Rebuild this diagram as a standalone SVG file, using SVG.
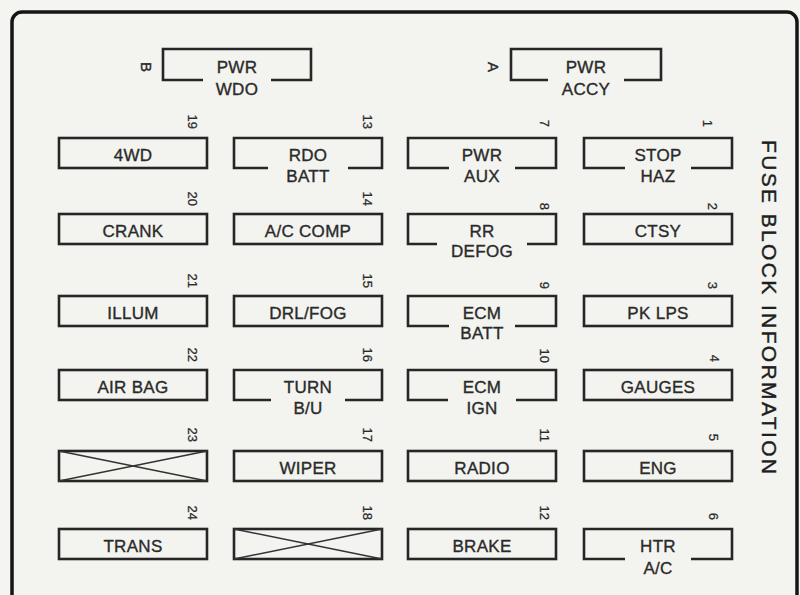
<svg xmlns="http://www.w3.org/2000/svg" width="800" height="595" viewBox="0 0 800 595">
<style>
.bg{fill:#f4f4f1}
.frame{fill:#f3f3ef;stroke:#151515;stroke-width:3.5}
.box{fill:none;stroke:#262626;stroke-width:2.6;stroke-linejoin:miter}
.x{stroke:#333;stroke-width:1.4}
.lbl{font-family:"Liberation Sans",Arial,sans-serif;font-size:17px;letter-spacing:0.3px;fill:#2a2a2a;stroke:#2a2a2a;stroke-width:0.35;text-anchor:middle}
.num{font-family:"Liberation Sans",Arial,sans-serif;font-size:13px;fill:#2a2a2a;stroke:#2a2a2a;stroke-width:0.25;text-anchor:end}
.let{font-family:"Liberation Sans",Arial,sans-serif;font-size:15px;fill:#2a2a2a;stroke:#2a2a2a;stroke-width:0.4;text-anchor:middle}
.title{font-family:"Liberation Sans",Arial,sans-serif;font-size:21px;fill:#1e1e1e;stroke:#1e1e1e;stroke-width:0.4}
</style>
<rect class="bg" x="0" y="0" width="800" height="595"/>
<rect class="frame" x="12" y="12" width="785" height="600" rx="10"/>
<text class="title" transform="rotate(90 762 140)" x="762" y="140" textLength="334" lengthAdjust="spacing">FUSE BLOCK INFORMATION</text>

<g id="fuse-B">
<path class="box" d="M203 80H163V49H311V80H271"/>
<text class="lbl" x="237" y="73">PWR</text>
<text class="lbl" x="237" y="95">WDO</text>
<text class="let" transform="rotate(90 140.5 67)" x="140.5" y="67">B</text>
</g>
<g id="fuse-A">
<path class="box" d="M548 80H511V49H661V80H624"/>
<text class="lbl" x="586" y="73">PWR</text>
<text class="lbl" x="586" y="95">ACCY</text>
<text class="let" transform="rotate(90 488 67)" x="488" y="67">A</text>
</g>

<!-- column 1 -->
<g id="fuse-19">
<rect class="box" x="59" y="138" width="148" height="30"/>
<text class="lbl" x="133" y="160.5">4WD</text>
<text class="num" transform="rotate(90 188.3 129)" x="188.3" y="129">19</text>
</g>
<g id="fuse-20">
<rect class="box" x="59" y="214" width="148" height="30"/>
<text class="lbl" x="133" y="236.5">CRANK</text>
<text class="num" transform="rotate(90 188.3 206)" x="188.3" y="206">20</text>
</g>
<g id="fuse-21">
<rect class="box" x="59" y="296" width="148" height="30"/>
<text class="lbl" x="133" y="318.5">ILLUM</text>
<text class="num" transform="rotate(90 188.3 288)" x="188.3" y="288">21</text>
</g>
<g id="fuse-22">
<rect class="box" x="59" y="370" width="148" height="30"/>
<text class="lbl" x="133" y="392.5">AIR BAG</text>
<text class="num" transform="rotate(90 188.3 362)" x="188.3" y="362">22</text>
</g>
<g id="fuse-23">
<rect class="box" x="59" y="451" width="148" height="30"/>
<line class="x" x1="59" y1="451" x2="207" y2="481"/>
<line class="x" x1="59" y1="481" x2="207" y2="451"/>
<text class="num" transform="rotate(90 188.3 442)" x="188.3" y="442">23</text>
</g>
<g id="fuse-24">
<rect class="box" x="59" y="529" width="148" height="30"/>
<text class="lbl" x="133" y="551.5">TRANS</text>
<text class="num" transform="rotate(90 188.3 520)" x="188.3" y="520">24</text>
</g>

<!-- column 2 -->
<g id="fuse-13">
<path class="box" d="M268 168H234V138H382V168H348"/>
<text class="lbl" x="308" y="160.5">RDO</text>
<text class="lbl" x="308" y="182">BATT</text>
<text class="num" transform="rotate(90 363.3 129)" x="363.3" y="129">13</text>
</g>
<g id="fuse-14">
<rect class="box" x="234" y="214" width="148" height="30"/>
<text class="lbl" x="308" y="236.5">A/C COMP</text>
<text class="num" transform="rotate(90 363.3 206)" x="363.3" y="206">14</text>
</g>
<g id="fuse-15">
<rect class="box" x="234" y="296" width="148" height="30"/>
<text class="lbl" x="308" y="318.5">DRL/FOG</text>
<text class="num" transform="rotate(90 363.3 288)" x="363.3" y="288">15</text>
</g>
<g id="fuse-16">
<path class="box" d="M271 400H234V370H382V400H345"/>
<text class="lbl" x="308" y="392.5">TURN</text>
<text class="lbl" x="308" y="414">B/U</text>
<text class="num" transform="rotate(90 363.3 362)" x="363.3" y="362">16</text>
</g>
<g id="fuse-17">
<rect class="box" x="234" y="451" width="148" height="30"/>
<text class="lbl" x="308" y="473.5">WIPER</text>
<text class="num" transform="rotate(90 363.3 442)" x="363.3" y="442">17</text>
</g>
<g id="fuse-18">
<rect class="box" x="234" y="529" width="148" height="30"/>
<line class="x" x1="234" y1="529" x2="382" y2="559"/>
<line class="x" x1="234" y1="559" x2="382" y2="529"/>
<text class="num" transform="rotate(90 363.3 520)" x="363.3" y="520">18</text>
</g>

<!-- column 3 -->
<g id="fuse-7">
<path class="box" d="M449 168H408V138H556V168H515"/>
<text class="lbl" x="482" y="160.5">PWR</text>
<text class="lbl" x="482" y="182">AUX</text>
<text class="num" transform="rotate(90 540.3 127)" x="540.3" y="127">7</text>
</g>
<g id="fuse-8">
<path class="box" d="M437 244H408V214H556V244H527"/>
<text class="lbl" x="482" y="236.5">RR</text>
<text class="lbl" x="482" y="257">DEFOG</text>
<text class="num" transform="rotate(90 540.3 210)" x="540.3" y="210">8</text>
</g>
<g id="fuse-9">
<path class="box" d="M449 326H408V296H556V326H515"/>
<text class="lbl" x="482" y="318.5">ECM</text>
<text class="lbl" x="482" y="339">BATT</text>
<text class="num" transform="rotate(90 540.3 289)" x="540.3" y="289">9</text>
</g>
<g id="fuse-10">
<path class="box" d="M448 400H408V370H556V400H516"/>
<text class="lbl" x="482" y="392.5">ECM</text>
<text class="lbl" x="482" y="413.5">IGN</text>
<text class="num" transform="rotate(90 540.3 363)" x="540.3" y="363">10</text>
</g>
<g id="fuse-11">
<rect class="box" x="408" y="451" width="148" height="30"/>
<text class="lbl" x="482" y="473.5">RADIO</text>
<text class="num" transform="rotate(90 540.3 442)" x="540.3" y="442">11</text>
</g>
<g id="fuse-12">
<rect class="box" x="408" y="529" width="148" height="30"/>
<text class="lbl" x="482" y="551.5">BRAKE</text>
<text class="num" transform="rotate(90 540.3 520)" x="540.3" y="520">12</text>
</g>

<!-- column 4 -->
<g id="fuse-1">
<path class="box" d="M625 168H584V138H732V168H691"/>
<text class="lbl" x="658" y="160.5">STOP</text>
<text class="lbl" x="658" y="182">HAZ</text>
<text class="num" transform="rotate(90 702.5 127)" x="702.5" y="127">1</text>
</g>
<g id="fuse-2">
<rect class="box" x="584" y="214" width="148" height="30"/>
<text class="lbl" x="658" y="236.5">CTSY</text>
<text class="num" transform="rotate(90 708 210)" x="708" y="210">2</text>
</g>
<g id="fuse-3">
<rect class="box" x="584" y="296" width="148" height="30"/>
<text class="lbl" x="658" y="318.5">PK LPS</text>
<text class="num" transform="rotate(90 707.5 289)" x="707.5" y="289">3</text>
</g>
<g id="fuse-4">
<rect class="box" x="584" y="370" width="148" height="30"/>
<text class="lbl" x="658" y="392.5">GAUGES</text>
<text class="num" transform="rotate(90 709.5 362)" x="709.5" y="362">4</text>
</g>
<g id="fuse-5">
<rect class="box" x="584" y="451" width="148" height="30"/>
<text class="lbl" x="658" y="473.5">ENG</text>
<text class="num" transform="rotate(90 708.5 441)" x="708.5" y="441">5</text>
</g>
<g id="fuse-6">
<path class="box" d="M625 559H584V529H732V559H691"/>
<text class="lbl" x="658" y="551.5">HTR</text>
<text class="lbl" x="658" y="574">A/C</text>
<text class="num" transform="rotate(90 709 520)" x="709" y="520">6</text>
</g>
<g id="connectors"/>
</svg>
